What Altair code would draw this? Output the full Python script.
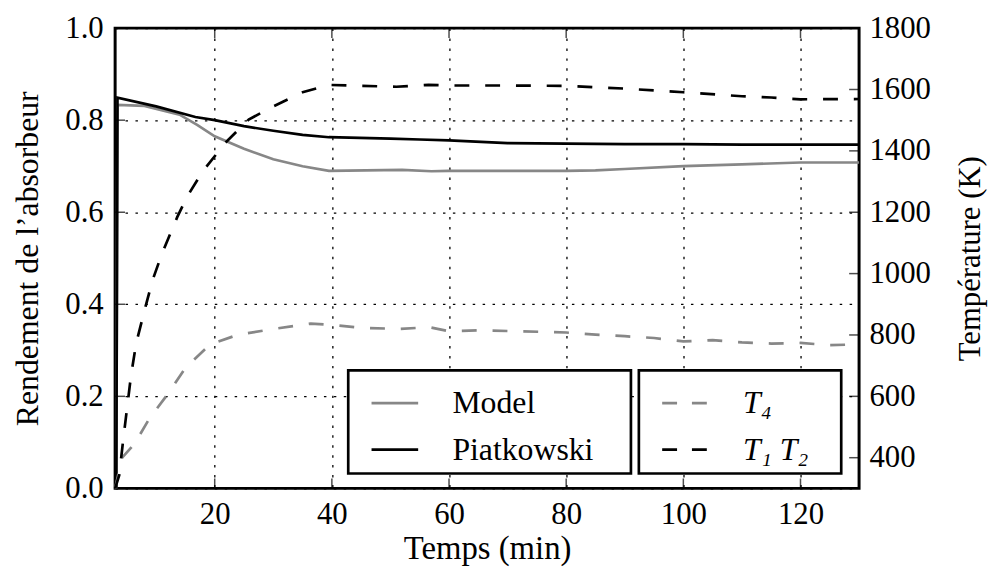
import altair as alt
import pandas as pd

# ---- data ----
t_model = [3.2, 3.4, 8, 14, 17, 20, 25, 30, 35, 39.5, 52, 57, 60, 70, 80, 85, 90, 100, 110, 120, 130]
model = [0.0, 0.833, 0.831, 0.812, 0.79, 0.765, 0.738, 0.715, 0.700, 0.690, 0.692, 0.689, 0.690,
         0.690, 0.690, 0.691, 0.694, 0.700, 0.704, 0.708, 0.708]

t_piat = [3.2, 3.4, 10, 16.7, 20, 25, 30, 35, 39.5, 50, 55, 60, 70, 80, 90, 100, 110, 120, 130]
piat = [0.0, 0.849, 0.83, 0.807, 0.80, 0.787, 0.777, 0.768, 0.763, 0.760, 0.758, 0.756, 0.750,
        0.749, 0.748, 0.748, 0.747, 0.747, 0.747]

t_t4 = [3, 4.2, 6.3, 8.8, 12.2, 15, 19.2, 24, 30.2, 36.4, 40, 45, 51.7, 56.7, 60, 65, 70, 80, 85,
        90, 95, 100, 105, 110, 115, 120, 125, 130]
temp_t4 = [300, 400, 445, 526, 613, 693, 769, 801, 820, 837, 833, 823, 820, 825, 812, 815, 813, 808,
           801, 796, 790, 779, 783, 776, 772, 774, 767, 769]

t_t12 = [3, 3.7, 4.4, 5.7, 6.6, 8.2, 9.4, 11, 13.6, 15.3, 17.9, 21.8, 25.8, 29.8, 35, 39.5, 45, 51,
         56.5, 60, 70, 80, 85, 90, 100, 110, 115, 120, 130]
temp_t12 = [300, 343, 462, 666, 774, 893, 979, 1065, 1184, 1251, 1332, 1426, 1502, 1543, 1591, 1615,
            1612, 1609, 1615, 1613, 1613, 1612, 1607, 1603, 1591, 1578, 1574, 1568, 1569]

eff_names = ["Model", "Piatkowski"]
temp_names = ["T₄", "T₁ T₂"]
x_ticks = [20, 40, 60, 80, 100, 120]
eff_ticks = [0.0, 0.2, 0.4, 0.6, 0.8, 1.0]
temp_ticks = [400, 600, 800, 1000, 1200, 1400, 1600, 1800]

df_eff = pd.concat([
    pd.DataFrame({"t": t_model, "v": model, "s": eff_names[0]}),
    pd.DataFrame({"t": t_piat, "v": piat, "s": eff_names[1]}),
])
df_temp = pd.concat([
    pd.DataFrame({"t": t_t4, "T": temp_t4, "s": temp_names[0]}),
    pd.DataFrame({"t": t_t12, "T": temp_t12, "s": temp_names[1]}),
])

W, H = 750, 464
FONT = "Liberation Serif"
FS = 31
GRAY = "#878787"

xscale = alt.Scale(domain=[3, 130], nice=False, zero=False)
yscale_eff = alt.Scale(domain=[0, 1], nice=False)
yscale_temp = alt.Scale(domain=[300, 1800], nice=False, zero=False)

x_axis = alt.Axis(values=x_ticks, title="Temps (min)", grid=True, gridDash=[2.5, 7.5],
                  gridColor="black", gridWidth=1.3, ticks=False, domain=False,
                  labelPadding=11, titlePadding=4, titleFontSize=33, format="d")
eff_axis = alt.Axis(values=eff_ticks, format=".1f", title="Rendement de l’absorbeur",
                    grid=True, gridDash=[2.5, 7.5], gridColor="black", gridWidth=1.3,
                    ticks=False, domain=False, labelPadding=12, titlePadding=21,
                    titleFontSize=32)
temp_axis = alt.Axis(orient="right", values=temp_ticks, format="d", title="Température (K)",
                     grid=False, ticks=False, domain=False, labelPadding=10, titlePadding=25,
                     titleFontSize=31, titleAngle=270, titleBaseline="top")

legend_common = dict(orient="none", legendY=345, symbolType="stroke", symbolSize=2209,
                     symbolStrokeWidth=2.7, symbolOffset=14, labelOffset=33, padding=8,
                     rowPadding=6, strokeColor="black", cornerRadius=0, fillColor="white",
                     labelFont=FONT, labelFontSize=32, labelColor="black",
                     title="\u00a0", titleOrient="right", titleFontSize=FS)

eff = alt.Chart(df_eff).mark_line(strokeWidth=2.7).encode(
    x=alt.X("t:Q", scale=xscale, axis=x_axis),
    y=alt.Y("v:Q", scale=yscale_eff, axis=eff_axis),
    color=alt.Color("s:N", scale=alt.Scale(domain=eff_names, range=[GRAY, "black"]),
                    legend=alt.Legend(legendX=235, titlePadding=30, **legend_common)),
    detail="s:N",
)

left_ticks = alt.Chart(pd.DataFrame({"v": eff_ticks[1:-1]})).mark_tick(
    color="black", thickness=1.5, size=10).encode(
    y=alt.Y("v:Q", scale=yscale_eff, axis=eff_axis), x=alt.value(5))

temp = alt.Chart(df_temp).mark_line(strokeWidth=2.7, strokeDash=[15, 16]).encode(
    x=alt.X("t:Q", scale=xscale, axis=x_axis),
    y=alt.Y("T:Q", scale=yscale_temp, axis=temp_axis),
    color=alt.Color("s:N", scale=alt.Scale(domain=temp_names, range=[GRAY, "black"]),
                    legend=alt.Legend(legendX=528, symbolDash=[15, 15], titlePadding=25,
                                      labelFontStyle="italic", **legend_common)),
    detail="s:N",
)

right_ticks = alt.Chart(pd.DataFrame({"T": temp_ticks[:-1]})).mark_tick(
    color="black", thickness=1.5, size=10).encode(
    y=alt.Y("T:Q", scale=yscale_temp, axis=temp_axis), x=alt.value(W - 5))

bottom_ticks = alt.Chart(pd.DataFrame({"t": x_ticks})).mark_tick(
    color="black", thickness=1.5, size=10).encode(
    x=alt.X("t:Q", scale=xscale, axis=x_axis), y=alt.value(H - 5))
top_ticks = alt.Chart(pd.DataFrame({"t": x_ticks})).mark_tick(
    color="black", thickness=1.5, size=10).encode(
    x=alt.X("t:Q", scale=xscale, axis=x_axis), y=alt.value(5))

left = alt.layer(eff, left_ticks)
right = alt.layer(temp, right_ticks)

chart = alt.layer(left, right, bottom_ticks, top_ticks).resolve_scale(
    y="independent", color="independent"
).properties(
    width=W, height=H,
    autosize=alt.AutoSizeParams(type="none"),
    padding={"left": 108, "top": 18, "right": 133, "bottom": 82},
).configure_view(
    stroke="black", strokeWidth=3
).configure_axis(
    labelFont=FONT, labelFontSize=FS, labelColor="black",
    titleFont=FONT, titleColor="black", titleFontWeight="normal",
).configure_legend(
    strokeWidth=2.7
)

chart.save("out.html", embed_options={"renderer": "svg", "actions": False})
